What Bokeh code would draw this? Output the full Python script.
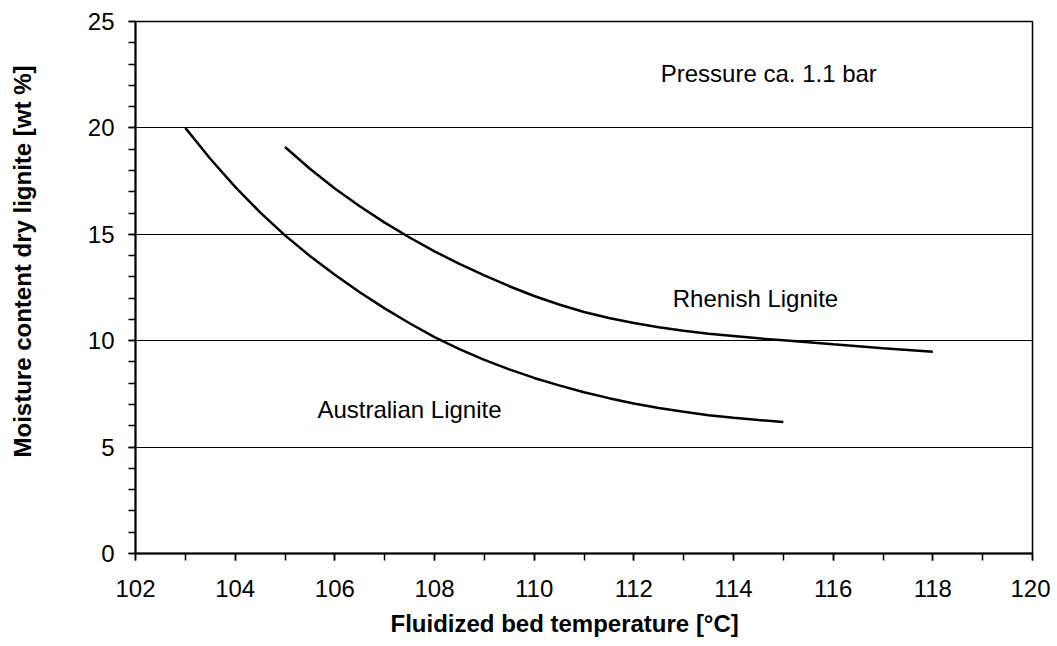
from bokeh.plotting import figure
from bokeh.models import Range1d, SingleIntervalTicker, Label, Title
from bokeh.embed import file_html
from bokeh.resources import INLINE

# Data
aus_temp = [103.0, 103.5, 104.0, 104.5, 105.0, 105.5, 106.0, 106.5, 107.0, 107.5,
            108.0, 108.5, 109.0, 109.5, 110.0, 110.5, 111.0, 111.5, 112.0, 112.5,
            113.0, 113.5, 114.0, 114.5, 115.0]
aus_moist = [20.0, 18.55, 17.23, 16.03, 14.95, 13.98, 13.10, 12.28, 11.52, 10.82,
             10.17, 9.60, 9.10, 8.65, 8.25, 7.90, 7.58, 7.30, 7.05, 6.84,
             6.66, 6.50, 6.38, 6.27, 6.18]

rhe_temp = [105.0, 105.5, 106.0, 106.5, 107.0, 107.5, 108.0, 108.5, 109.0, 109.5,
            110.0, 110.5, 111.0, 111.5, 112.0, 112.5, 113.0, 113.5, 114.0, 114.5,
            115.0, 116.0, 117.0, 118.0]
rhe_moist = [19.10, 18.08, 17.15, 16.32, 15.55, 14.85, 14.20, 13.61, 13.07, 12.56,
             12.10, 11.70, 11.35, 11.07, 10.83, 10.63, 10.47, 10.33, 10.22, 10.11,
             10.02, 9.83, 9.65, 9.48]

x_title = "Fluidized bed temperature [°C]"
y_title = "Moisture content dry lignite [wt %]"
annotations = [("Pressure ca. 1.1 bar", 112.54, 22.55),
               ("Rhenish Lignite", 112.78, 11.96),
               ("Australian Lignite", 105.65, 6.78)]

FONT = "Liberation Sans"

p = figure(width=1050, height=646, output_backend="svg", toolbar_location=None,
           x_range=Range1d(102, 120), y_range=Range1d(0, 25),
           min_border_left=135, min_border_right=18, min_border_top=21,
           min_border_bottom=93)
p.background_fill_color = "white"
p.border_fill_color = "white"
p.outline_line_color = "black"
p.outline_line_width = 1.5

p.xaxis.ticker = SingleIntervalTicker(interval=2, num_minor_ticks=2)
p.yaxis.ticker = SingleIntervalTicker(interval=5, num_minor_ticks=5)

for ax in (p.xaxis[0], p.yaxis[0]):
    ax.axis_line_color = "black"
    ax.axis_line_width = 2
    ax.major_tick_line_color = "black"
    ax.minor_tick_line_color = "black"
    ax.major_tick_line_width = 1.5
    ax.minor_tick_line_width = 1.5
    ax.major_tick_in = 0
    ax.major_tick_out = 7
    ax.minor_tick_in = 0
    ax.minor_tick_out = 7
    ax.major_label_text_font = FONT
    ax.major_label_text_font_size = "24px"
    ax.major_label_text_color = "black"

p.xaxis.major_label_standoff = 19
p.yaxis.major_label_standoff = 14
# widen the y-axis panel so that the title sits at the far left, as in the reference
p.yaxis.axis_label = "\u00a0"
p.yaxis.axis_label_text_font_size = "1px"
p.yaxis.axis_label_standoff = 37

p.xgrid.grid_line_color = None
p.ygrid.grid_line_color = "black"
p.ygrid.grid_line_width = 1
p.ygrid.grid_line_alpha = 1.0

p.line(aus_temp, aus_moist, line_color="black", line_width=2.5)
p.line(rhe_temp, rhe_moist, line_color="black", line_width=2.5)

for txt, xx, yy in annotations:
    p.add_layout(Label(x=xx, y=yy, text=txt, text_font=FONT, text_font_size="24px",
                       text_color="black", text_baseline="middle", text_align="left"))

# Axis titles as side-panel titles (offset from centre as in the reference)
p.add_layout(Title(text=x_title, align="left", offset=255, vertical_align="bottom",
                   text_font=FONT, text_font_size="24px", text_font_style="bold",
                   text_color="black", standoff=16), "below")
p.add_layout(Title(text=y_title, align="left", offset=96, vertical_align="middle",
                   text_font=FONT, text_font_size="24px", text_font_style="bold",
                   text_color="black", standoff=14), "left")

open("out.html", "w").write(file_html(p, INLINE))
